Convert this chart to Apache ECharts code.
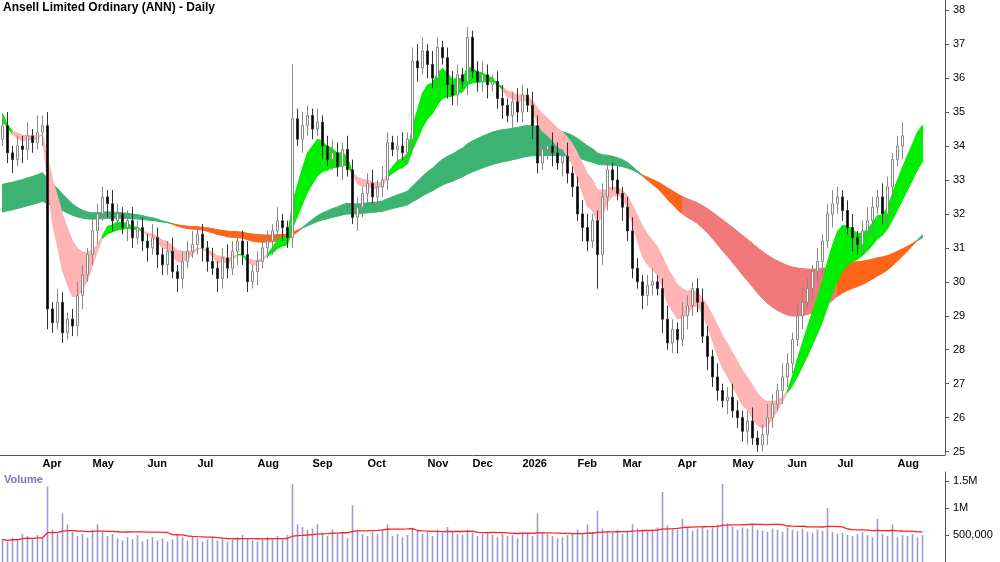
<!DOCTYPE html>
<html><head><meta charset="utf-8">
<script src="https://cdn.jsdelivr.net/npm/echarts@6/dist/echarts.min.js"></script>
<style>html,body{margin:0;padding:0;background:#fff}#c{width:1000px;height:562px}</style>
</head><body><div id="c"></div>
<script>
const title = 'Ansell Limited Ordinary (ANN) - Daily';
const closes = [34.6,33.8,33.6,34.0,33.9,34.3,34.1,34.4,34.6,29.2,
28.8,29.4,28.5,28.9,28.7,29.6,30.2,30.8,31.5,32.0,
32.5,32.3,31.8,32.0,31.6,31.8,31.3,31.6,31.2,31.0,
31.3,30.8,30.5,30.9,30.3,30.1,30.6,30.9,31.1,31.4,
31.0,30.6,30.4,30.1,30.7,30.4,30.9,31.2,30.8,30.0,
30.3,30.6,31.0,31.2,31.5,31.8,31.6,31.3,34.8,34.2,
34.6,34.9,34.5,34.7,34.0,33.6,33.8,33.4,33.9,33.3,
31.9,32.2,32.6,32.9,32.5,32.8,33.0,34.1,33.9,34.0,
33.8,34.2,36.5,36.3,36.8,36.4,36.0,36.9,36.6,35.8,
35.5,36.1,35.9,37.2,36.2,35.9,36.1,35.8,35.9,35.4,
35.2,34.9,35.3,35.0,35.5,35.2,34.6,33.5,33.9,34.0,
33.8,33.5,33.7,33.2,32.8,32.0,31.6,31.2,31.8,30.8,
32.5,33.3,33.0,32.6,32.2,31.5,30.4,30.0,29.6,29.9,
30.0,29.8,28.9,28.2,28.6,28.3,29.0,29.3,29.8,29.4,
28.4,27.8,27.2,26.8,26.5,26.6,26.2,26.0,25.6,25.9,
25.4,25.2,25.5,26.0,26.4,26.8,27.2,27.6,28.3,29.0,
29.4,29.8,30.3,30.6,31.2,32.0,32.3,32.5,32.1,31.6,
31.3,31.1,31.5,31.8,32.2,32.5,32.0,32.8,33.6,34.0,
34.3,34.6,34.9,35.3,35.1];
const firstOpen = 34.2;
// wick lengths in tenths of a dollar, one digit per bar
const wickUp = '3423342534243234324332432342324323423342324234323423432422334324234324332342432342453243234324234323423432432343242344234324234323423432432343242343234234324323432423432342343243234';
const wickDn = '2342433243324233423424332432342433243223432433243324234243324332423342243324332423342433243324233423424332432342433243223432433243324234243324332423342243324332423342433243324233424';
const extremes = {58:{h:36.4}, 93:{h:37.5}, 84:{h:37.2}, 119:{l:29.8}, 152:{l:25.0}, 9:{l:28.6}, 12:{l:28.2}};
const volumes = [420,380,450,400,520,480,430,500,460,1400,
600,520,900,700,560,480,520,450,600,700,
560,480,520,440,400,460,420,500,380,420,
460,400,440,380,420,520,460,400,480,440,
380,420,460,400,440,380,420,460,500,440,
400,380,420,460,440,480,420,500,1450,700,
650,600,620,700,540,480,600,520,560,440,
1050,600,520,480,560,520,600,700,480,520,
460,500,640,580,520,560,480,600,540,650,
560,520,500,600,540,480,520,560,500,460,
520,480,500,440,560,520,480,900,560,520,
480,440,460,500,540,600,520,700,560,950,
620,580,540,600,520,560,700,620,580,560,
600,640,1300,680,620,600,800,640,580,620,
660,600,640,700,1450,720,660,600,640,620,
700,600,580,560,620,600,560,640,600,580,
620,560,540,600,580,1000,560,520,540,500,
480,520,560,500,460,800,520,480,700,460,
500,480,520,460,500];
const monthLabels = ['Apr','May','Jun','Jul','Aug','Sep','Oct','Nov','Dec','2026','Feb','Mar','Apr','May','Jun','Jul','Aug'];
const monthIdx = [8,18,29,39,51,62,73,85,94,104,115,124,135,146,157,167,179];
const priceTicks = [25,26,27,28,29,30,31,32,33,34,35,36,37,38];
const emaSeeds = {fastS:35.1, fastL:34.7, slowS:32.8, slowL:32.0};
const emaLens = {fastS:6, fastL:14, slowS:50, slowL:95};
const redRange = [136, 166];
const volMaLen = 25;

const N = closes.length, NCAT = 189;
const cats = []; for (let i = 0; i < NCAT; i++) cats.push(String(i));
const ohlc = [];
for (let i = 0; i < N; i++) {
  const o = i === 0 ? firstOpen : closes[i-1], c = closes[i];
  let h = Math.max(o, c) + (+wickUp[i]) / 10, l = Math.min(o, c) - (+wickDn[i]) / 10;
  if (extremes[i]) { if (extremes[i].h) h = extremes[i].h; if (extremes[i].l) l = extremes[i].l; }
  ohlc.push([o, c, l, h]);
}
function ema(seed, len) { const k = 2 / (len + 1); let e = seed; return closes.map(c => (e = e + k * (c - e))); }
const fS = ema(emaSeeds.fastS, emaLens.fastS), fL = ema(emaSeeds.fastL, emaLens.fastL);
const sS = ema(emaSeeds.slowS, emaLens.slowS), sL = ema(emaSeeds.slowL, emaLens.slowL);
function band(a, b, colFn) {
  const d = [];
  for (let i = 0; i < N - 1; i++) d.push([i, Math.min(a[i], b[i]), Math.max(a[i], b[i]), Math.min(a[i+1], b[i+1]), Math.max(a[i+1], b[i+1]), colFn(i)]);
  return d;
}
const fastBand = band(fS, fL, i => fS[i] >= fL[i] ? '#00ee00' : '#ffb3b3');
const slowBand = band(sS, sL, i => sS[i] >= sL[i] ? '#3cb371' : (i >= redRange[0] && i <= redRange[1] ? '#f07878' : '#ff6418'));
const volMa = volumes.map((v, i) => { const s = volumes.slice(Math.max(0, i - volMaLen + 1), i + 1); return s.reduce((a, b) => a + b, 0) / s.length * 1000; });

function renderBand(params, api) {
  const p1 = api.coord([api.value(0), api.value(1)]), p2 = api.coord([api.value(0) + 1, api.value(3)]);
  const p3 = api.coord([api.value(0) + 1, api.value(4)]), p4 = api.coord([api.value(0), api.value(2)]);
  const item = params.seriesIndex === 0 ? slowBand[params.dataIndex] : fastBand[params.dataIndex];
  return { type: 'polygon', shape: { points: [p1, p2, p3, p4] }, style: { fill: item[5], stroke: item[5], lineWidth: 1 } };
}
const font = 'Arial, "Liberation Sans", sans-serif';
const chart = echarts.init(document.getElementById('c'));
chart.setOption({
  animation: false,
  backgroundColor: '#fff',
  graphic: [
    { type: 'text', left: 3, top: 2, style: { text: title, font: 'bold 12px ' + font, fill: '#000' } },
    { type: 'text', left: 4, top: 474, style: { text: 'Volume', font: 'bold 11px ' + font, fill: '#7777bb' } }
  ],
  grid: [
    { left: 0, right: 55, top: 0, height: 455 },
    { left: 0, right: 55, top: 472, height: 90 }
  ],
  xAxis: [
    { type: 'category', gridIndex: 0, data: cats, boundaryGap: true,
      axisLine: { lineStyle: { color: '#555' } },
      axisTick: { interval: (i) => monthIdx.includes(i), length: 4, lineStyle: { color: '#555' } },
      axisLabel: { interval: (i) => monthIdx.includes(i), formatter: (v) => { const k = monthIdx.indexOf(+v); return k >= 0 ? monthLabels[k] : ''; }, color: '#000', fontSize: 11, fontWeight: 'bold', fontFamily: font, align: 'left', margin: 3 },
      splitLine: { show: false } },
    { type: 'category', gridIndex: 1, data: cats, boundaryGap: true, position: 'top',
      axisLine: { lineStyle: { color: '#555' } }, axisTick: { show: false }, axisLabel: { show: false } }
  ],
  yAxis: [
    { type: 'value', gridIndex: 0, position: 'right', min: 24.9, max: 38.3,
      axisLine: { show: true, lineStyle: { color: '#555' } },
      axisTick: { show: true, customValues: priceTicks, length: 4, lineStyle: { color: '#555' } },
      axisLabel: { customValues: priceTicks, color: '#000', fontSize: 11, fontFamily: font, margin: 8 },
      splitLine: { show: false } },
    { type: 'value', gridIndex: 1, position: 'right', min: 0, max: 1670000,
      axisLine: { show: true, lineStyle: { color: '#555' } },
      axisTick: { show: true, customValues: [500000, 1000000, 1500000], length: 4 },
      axisLabel: { customValues: [500000, 1000000, 1500000], formatter: v => v === 1500000 ? '1.5M' : v === 1000000 ? '1M' : '500,000', color: '#000', fontSize: 11, fontFamily: font, margin: 8 },
      splitLine: { show: false } }
  ],
  series: [
    { type: 'custom', xAxisIndex: 0, yAxisIndex: 0, renderItem: renderBand, data: slowBand, silent: true, z: 1 },
    { type: 'custom', xAxisIndex: 0, yAxisIndex: 0, renderItem: renderBand, data: fastBand, silent: true, z: 2 },
    { type: 'candlestick', xAxisIndex: 0, yAxisIndex: 0, data: ohlc, barWidth: 3, z: 3,
      itemStyle: { color: '#ffffff', color0: '#000000', borderColor: '#888888', borderColor0: '#333333', borderWidth: 1 } },
    { type: 'bar', xAxisIndex: 1, yAxisIndex: 1, data: volumes.map(v => v * 1000), barWidth: 1.6, itemStyle: { color: '#9a9ad4' }, z: 2 },
    { type: 'line', xAxisIndex: 1, yAxisIndex: 1, data: volMa, symbol: 'none', lineStyle: { color: '#ff2222', width: 1.3 }, z: 3 }
  ]
});
</script></body></html>
